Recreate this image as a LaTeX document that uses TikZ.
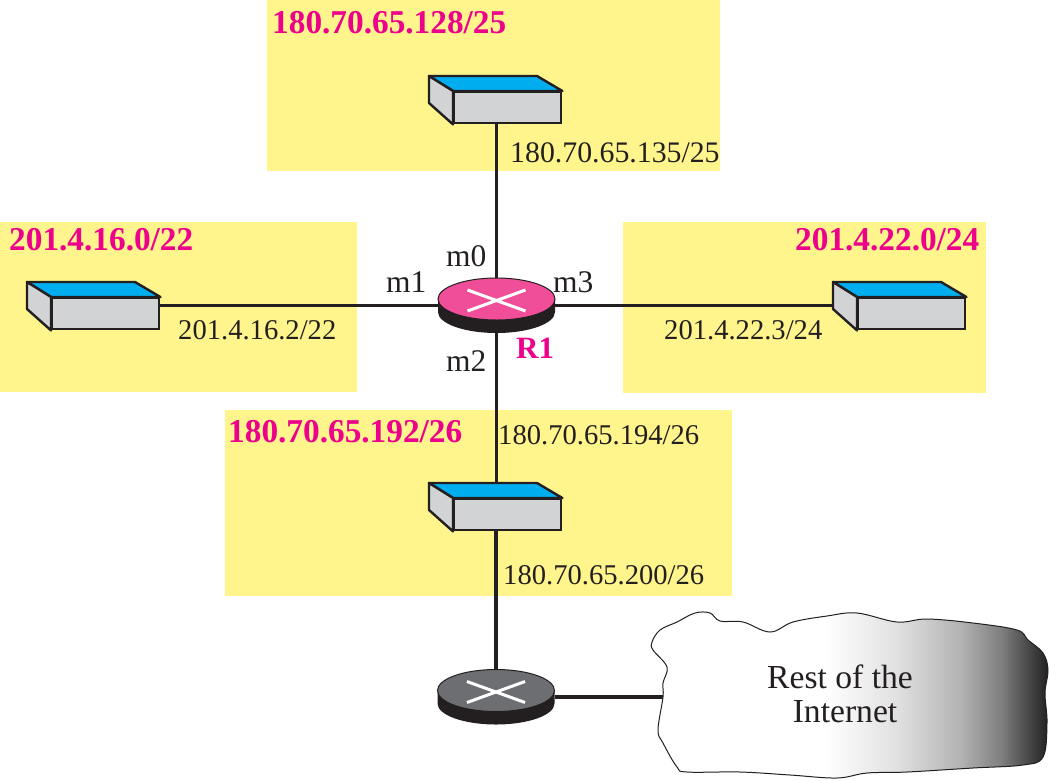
\documentclass[tikz,border=0pt]{standalone}
\usepackage{fontspec}
\setmainfont{Liberation Serif}
\usetikzlibrary{shapes.geometric,backgrounds}
\definecolor{netyellow}{HTML}{FFF58C}
\definecolor{hotpink}{HTML}{EC008C}
\definecolor{routerpink}{HTML}{F04E98}
\definecolor{routergray}{HTML}{6D6E71}
\definecolor{swblue}{HTML}{00AEEF}
\definecolor{swgray}{HTML}{D1D3D4}
\definecolor{inkdark}{HTML}{231F20}
\pgfdeclarehorizontalshading{cloudshade}{100bp}{
  color(0bp)=(white); color(47bp)=(white); color(56bp)=(white!88!black);
  color(64bp)=(white!70!black); color(69bp)=(white!50!black); color(73bp)=(white!25!black); color(75bp)=(inkdark); color(100bp)=(inkdark)}
\pgfdeclarelayer{nets}
\pgfdeclarelayer{links}
\pgfsetlayers{nets,links,main}
\tikzset{
  x=1pt,y=-1pt,
  netbox/.style={fill=netyellow,draw=none,rectangle,inner sep=0pt,anchor=north west},
  addr/.style={font=\fontsize{28.6}{28.6}\selectfont,text=inkdark,inner sep=0pt,anchor=base west},
  netname/.style={font=\fontsize{33.3}{33.3}\selectfont\bfseries,text=hotpink,inner sep=0pt,anchor=base west},
  iface/.style={font=\fontsize{31.5}{31.5}\selectfont,text=inkdark,inner sep=0pt,anchor=base west},
  cloudtext/.style={font=\fontsize{33.6}{33.6}\selectfont,text=inkdark,inner sep=0pt,anchor=base},
  swfront/.style={rectangle,draw=inkdark,line width=2.4pt,fill=swgray,inner sep=0pt,minimum width=107pt,minimum height=31pt,anchor=north west},
  swtop/.style={draw=inkdark,line width=2.4pt,line join=round,fill=swblue},
  swside/.style={draw=inkdark,line width=2.4pt,line join=round,fill=swgray},
  routerhull/.style={ellipse,draw=none,inner sep=0pt,minimum width=117pt,minimum height=55pt},
  link/.style={draw=inkdark,line width=3.4pt},
}
\newcommand{\switchat}[3]{% name, x, y of the front face's top-left corner
  \node[swfront] (#1) at (#2,#3) {};
  \draw[swtop] (#1.north west) -- ++(-24,-15) -- ++(108,0) -- (#1.north east) -- cycle;
  \draw[swside] (#1.north west) -- ++(-24,-15) -- ++(0,27) -- (#1.south west) -- cycle;
}
\newcommand{\routerat}[4]{% name, x, y of the centre, colour
  \node[routerhull] (#1) at (#2,#3) {};
  \fill[inkdark] (#2-58.5,#3-6.5) -- (#2-58.5,#3+6.5)
     arc[start angle=180,end angle=0,x radius=58.5,y radius=21]
     -- (#2+58.5,#3-6.5) -- cycle;
  \draw[fill=#4,draw=inkdark,line width=1pt] (#2,#3-6.5) ellipse[x radius=58.5,y radius=21];
  \draw[white,line width=3pt] (#2-29,#3-15.5) -- (#2+29,#3+5.5) (#2-29,#3+5.5) -- (#2+29,#3-15.5);
}
\begin{document}
\begin{tikzpicture}
\useasboundingbox (0,0) rectangle (1050,780);
\begin{pgfonlayer}{nets}
  \node[netbox,minimum width=453pt,minimum height=171pt] (nettop) at (267,0) {};
  \node[netbox,minimum width=357pt,minimum height=170pt] (netleft) at (0,222) {};
  \node[netbox,minimum width=363pt,minimum height=171pt] (netright) at (623,222) {};
  \node[netbox,minimum width=507pt,minimum height=186pt] (netbottom) at (225,410) {};
\end{pgfonlayer}

\switchat{swtopnet}{453}{91}
\switchat{swleftnet}{51}{297}
\switchat{swrightnet}{857}{297}
\switchat{swbottomnet}{453}{498}
\routerat{rone}{496.5}{305.5}{routerpink}
\routerat{rtwo}{496}{697}{routergray}

% cloud
\shade[shading=cloudshade,draw=inkdark,line width=1pt]
  plot[smooth cycle,tension=0.6] coordinates {
  (652,642) (660,630) (677,622) (695,613) (710,613) (720,621) (743,622) (770,632)
  (793,622) (827,616) (857,613) (897,622) (927,619) (973,623) (1017,630) (1028,640)
  (1043,653) (1048,670) (1045,693) (1047,723) (1043,757) (1023,765) (973,768)
  (907,772) (867,773) (837,778) (790,775) (740,772) (687,772) (677,767) (663,743)
  (658,730) (663,697) (663,683) (667,667) (653,650)};
\coordinate (cloudport) at (664,696);

\begin{pgfonlayer}{links}
  \draw[link] (rone.north) -- (rone.north |- swtopnet.south);
  \draw[link] (rone.west) -- (rone.west -| swleftnet.east);
  \draw[link] (rone.east) -- (rone.east -| swrightnet.west);
  \draw[link] (rone.south) -- (rone.south |- swbottomnet.north);
  \draw[link] (rtwo.north |- swbottomnet.south) -- (rtwo.north);
  \draw[link] (rtwo.east) -- (rtwo.east -| cloudport);
\end{pgfonlayer}

\node[netname] (lbltop) at (272,33) {180.70.65.128/25};
\node[netname] (lblleft) at (9,250) {201.4.16.0/22};
\node[netname] (lblright) at (795,250) {201.4.22.0/24};
\node[netname] (lblbottom) at (228,442) {180.70.65.192/26};
\node[netname,font=\fontsize{31}{31}\selectfont\bfseries] (lblrone) at (516,358) {R1};

\node[addr,font=\fontsize{29.8}{29.8}\selectfont] (addrtop) at (510,162) {180.70.65.135/25};
\node[addr] (addrleft) at (178,339) {201.4.16.2/22};
\node[addr] (addrright) at (664,339) {201.4.22.3/24};
\node[addr] (addrbotA) at (498,444) {180.70.65.194/26};
\node[addr] (addrbotB) at (503,584) {180.70.65.200/26};

\node[iface] (mzero) at (446,266) {m0};
\node[iface] (mone) at (386,292) {m1};
\node[iface] (mthree) at (553,292) {m3};
\node[iface] (mtwo) at (446,371) {m2};

\node[cloudtext] (restA) at (840,688) {Rest of the};
\node[cloudtext] (restB) at (845,722) {Internet};
\end{tikzpicture}
\end{document}
